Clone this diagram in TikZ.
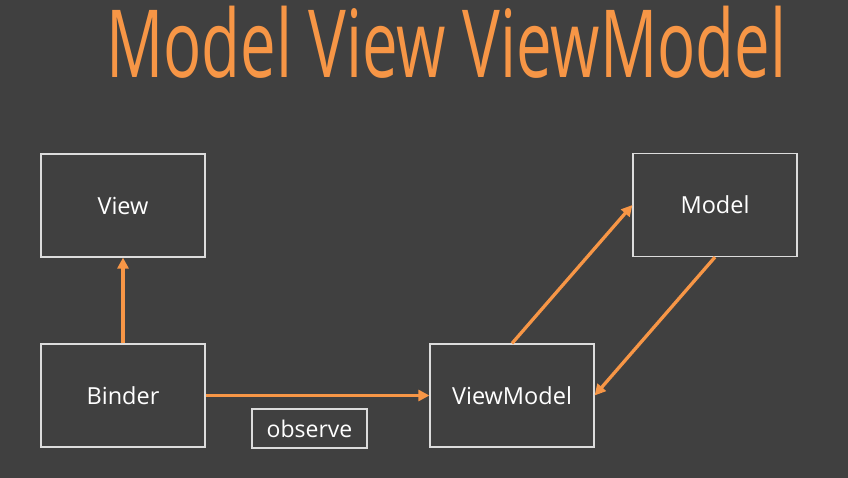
\documentclass[tikz,border=0pt]{standalone}
\usepackage{fontspec}
\usepackage{xcolor}
\usepackage{tikz}
\usetikzlibrary{arrows.meta}
\setmainfont{Open Sans}
\definecolor{slidebg}{HTML}{404040}
\definecolor{mvvmorange}{HTML}{F79646}
\definecolor{boxline}{HTML}{DCDCDC}

\begin{document}
\begin{tikzpicture}[x=1pt,y=-1pt,
		block/.style={draw=boxline, line width=1.2pt, minimum width=164pt, minimum height=103pt, text=white, font=\fontsize{23.5}{27}\selectfont, inner sep=0pt},
		link/.style={draw=mvvmorange, line width=3.3pt, -{Triangle[length=11pt,width=11pt]}}]
	% Background
	\fill[slidebg] (0,0) rectangle (848,478);
	\useasboundingbox (0,0) rectangle (848,478);
	% Title
	\node[anchor=base west, text=mvvmorange, font=\fontsize{94}{100}\selectfont, inner sep=0pt] (title) at (106,78) {\scalebox{0.675}[1]{Model View ViewModel}};
	% Boxes
	\node[block] (view) at (123,205.5) {View};
	\node[block] (binder) at (123,395.5) {Binder};
	\node[block] (viewmodel) at (512,395.5) {ViewModel};
	\node[block] (model) at (715,205) {Model};
	% Label
	\node[draw=boxline, line width=1.2pt, minimum width=115pt, minimum height=39pt, text=white, font=\fontsize{23}{27}\selectfont, inner sep=0pt] (observe) at (309.5,428.5) {observe};
	% Arrows
	\draw[link] (binder.north) -- (view.south);
	\draw[link] (binder.east) -- (viewmodel.west);
	\draw[link] (viewmodel.north) -- (model.west);
	\draw[link] (model.south) -- (viewmodel.east);
\end{tikzpicture}
\end{document}
